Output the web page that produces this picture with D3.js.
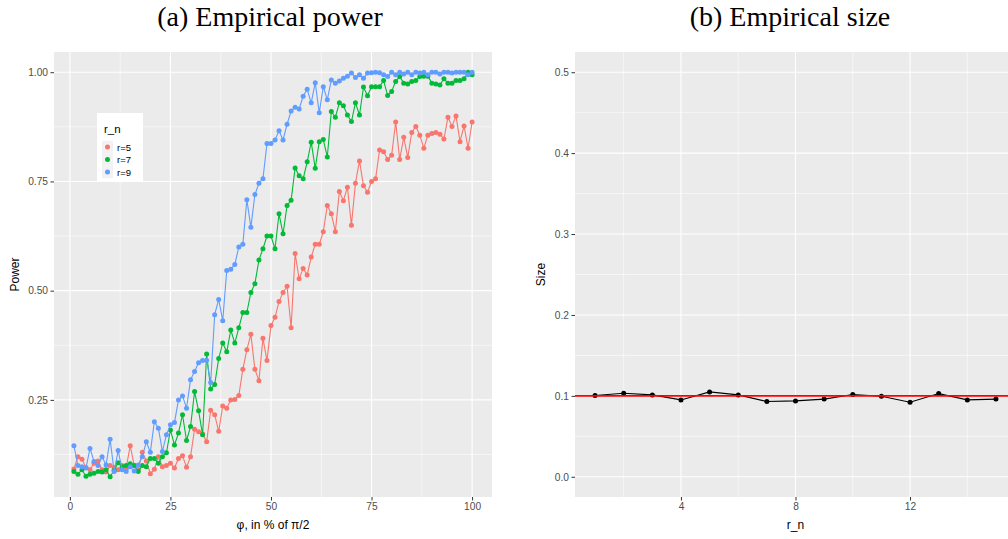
<!DOCTYPE html>
<html>
<head>
<meta charset="utf-8">
<script src="https://cdn.jsdelivr.net/npm/d3@7/dist/d3.min.js"></script>
<style>
  body { margin:0; background:#fff; }
  text { font-family: "Liberation Sans", Arial, sans-serif; }
  .title { font-family: "Liberation Serif", "Times New Roman", serif; }
</style>
</head>
<body>
<svg id="chart" width="1008" height="539"></svg>
<script>
// x values: phi in % of pi/2
const phi = d3.range(1, 101);

const power5 = [0.092,0.12,0.114,0.095,0.09,0.105,0.11,0.09,0.085,0.10,
  0.095,0.09,0.10,0.095,0.145,0.10,0.09,0.13,0.11,0.081,
  0.091,0.12,0.097,0.10,0.105,0.094,0.116,0.122,0.096,0.12,
  0.183,0.177,0.172,0.154,0.226,0.216,0.178,0.236,0.231,0.25,
  0.251,0.26,0.32,0.365,0.40,0.32,0.294,0.391,0.34,0.42,
  0.439,0.475,0.496,0.51,0.415,0.585,0.527,0.551,0.536,0.577,
  0.606,0.606,0.635,0.695,0.676,0.635,0.727,0.706,0.737,0.65,
  0.746,0.797,0.74,0.725,0.75,0.756,0.822,0.818,0.80,0.81,
  0.886,0.80,0.851,0.805,0.862,0.876,0.856,0.826,0.856,0.86,
  0.862,0.858,0.847,0.897,0.876,0.90,0.841,0.877,0.826,0.886];

const power7 = [0.086,0.08,0.09,0.075,0.08,0.082,0.086,0.085,0.09,0.074,
  0.089,0.106,0.097,0.10,0.104,0.10,0.086,0.10,0.097,0.116,
  0.116,0.105,0.12,0.129,0.181,0.147,0.174,0.216,0.157,0.189,
  0.269,0.225,0.17,0.355,0.275,0.285,0.345,0.38,0.36,0.41,
  0.38,0.415,0.45,0.45,0.496,0.516,0.57,0.596,0.625,0.625,
  0.596,0.676,0.63,0.695,0.707,0.781,0.763,0.756,0.795,0.84,
  0.78,0.841,0.846,0.806,0.91,0.897,0.93,0.923,0.902,0.887,
  0.93,0.902,0.966,0.946,0.967,0.967,0.967,0.981,0.947,0.956,
  0.979,0.99,0.975,0.973,0.979,0.981,0.99,0.991,0.991,0.975,
  0.973,0.971,0.985,0.975,0.975,0.981,0.981,0.985,1.0,0.994];

const power9 = [0.145,0.10,0.097,0.094,0.139,0.109,0.10,0.12,0.101,0.16,
  0.086,0.134,0.09,0.086,0.097,0.087,0.101,0.12,0.154,0.13,
  0.20,0.185,0.132,0.17,0.193,0.198,0.25,0.259,0.231,0.296,
  0.315,0.335,0.34,0.341,0.29,0.445,0.48,0.431,0.546,0.549,
  0.56,0.60,0.606,0.708,0.645,0.72,0.746,0.756,0.837,0.837,
  0.845,0.866,0.845,0.881,0.911,0.92,0.916,0.945,0.961,0.93,
  0.976,0.907,0.967,0.937,0.982,0.975,0.98,0.986,0.991,0.998,
  0.988,0.994,0.986,0.998,0.999,1.0,0.999,0.994,0.99,1.0,
  0.994,1.0,0.996,1.0,0.994,1.0,0.998,1.0,0.994,1.0,
  1.0,0.996,1.0,1.0,0.998,1.0,1.0,1.0,0.994,1.0];

const seriesNames = ["r=5","r=7","r=9"];
const seriesColours = ["#F8766D","#00BA38","#619CFF"];

const rn = d3.range(1, 16);
const sizeVals = [0.1004,0.1033,0.1012,0.0950,0.1049,0.1012,0.093,0.0938,0.096,0.1016,
  0.0996,0.0922,0.1028,0.095,0.096];
const nominal = 0.1;

const powerTicksX = [0,25,50,75,100];
const powerTicksY = [0.25,0.50,0.75,1.00];
const sizeTicksX = [4,8,12];
const sizeTicksY = [0.0,0.1,0.2,0.3,0.4,0.5];

const svg = d3.select("#chart");
const grey = "#EBEBEB";

// ggplot style expansion
function expand(ext, m) {
    const pad = (ext[1]-ext[0])*m;
    return [ext[0]-pad, ext[1]+pad];
}

function panel(g, x, y, xMajor, xMinor, yMajor, yMinor) {
    const [x0,x1] = x.range(), [y0,y1] = y.range();
    g.append("rect").attr("x",x0).attr("y",y1).attr("width",x1-x0).attr("height",y0-y1).attr("fill",grey);
    g.selectAll(".gminx").data(xMinor).enter().append("line")
        .attr("x1",d=>x(d)).attr("x2",d=>x(d)).attr("y1",y0).attr("y2",y1)
        .attr("stroke","#fff").attr("stroke-width",0.55);
    g.selectAll(".gminy").data(yMinor).enter().append("line")
        .attr("y1",d=>y(d)).attr("y2",d=>y(d)).attr("x1",x0).attr("x2",x1)
        .attr("stroke","#fff").attr("stroke-width",0.55);
    g.selectAll(".gmajx").data(xMajor).enter().append("line")
        .attr("x1",d=>x(d)).attr("x2",d=>x(d)).attr("y1",y0).attr("y2",y1)
        .attr("stroke","#fff").attr("stroke-width",1.1);
    g.selectAll(".gmajy").data(yMajor).enter().append("line")
        .attr("y1",d=>y(d)).attr("y2",d=>y(d)).attr("x1",x0).attr("x2",x1)
        .attr("stroke","#fff").attr("stroke-width",1.1);
}

function axes(g, x, y, xTicks, yTicks, fmtY) {
    const xAxis = d3.axisBottom(x).tickValues(xTicks).tickSize(3.5).tickPadding(2.5);
    const yAxis = d3.axisLeft(y).tickValues(yTicks).tickSize(3.5).tickPadding(2.5).tickFormat(fmtY);
    const gx = g.append("g").attr("transform","translate(0,"+y.range()[0]+")").call(xAxis);
    const gy = g.append("g").attr("transform","translate("+x.range()[0]+",0)").call(yAxis);
    [gx,gy].forEach(a=>{
        a.select(".domain").remove();
        a.selectAll(".tick line").attr("stroke","#333333").attr("stroke-width",1);
        a.selectAll(".tick text").attr("fill","#4D4D4D").style("font-size","10.2px");
    });
}

// ---- (a) power ----
const xP = d3.scaleLinear().domain(expand([1,100],0.05)).range([54,492]);
const yP = d3.scaleLinear().domain(expand([d3.min(power7),1.0],0.05)).range([497,52]);
const gA = svg.append("g");
panel(gA, xP, yP, powerTicksX, [12.5,37.5,62.5,87.5], powerTicksY, [0.125,0.375,0.625,0.875]);
axes(gA, xP, yP, powerTicksX, powerTicksY, d3.format(".2f"));

const series = [power5, power7, power9].map((vals,k)=>({
    name: seriesNames[k], colour: seriesColours[k],
    lineData: phi.map((p,i)=>({x:p, value:vals[i]}))
}));
const line = d3.line().x(d=>xP(d.x)).y(d=>yP(d.value));
const sg = gA.selectAll(".series").data(series).enter().append("g");
sg.append("path").attr("d",d=>line(d.lineData)).attr("fill","none")
    .attr("stroke",d=>d.colour).attr("stroke-width",1.1);
sg.each(function(s){
    d3.select(this).selectAll("circle").data(s.lineData).enter().append("circle")
        .attr("cx",d=>xP(d.x)).attr("cy",d=>yP(d.value)).attr("r",2.5).attr("fill",s.colour);
});

// legend
const leg = gA.append("g");
leg.append("rect").attr("x",97).attr("y",113).attr("width",46).attr("height",68).attr("fill","#fff");
leg.append("text").attr("x",104).attr("y",133).text("r_n").style("font-size","11.5px").attr("fill","#000");
seriesNames.forEach((n,k)=>{
    const cy = 147 + k*12.5;
    leg.append("rect").attr("x",102).attr("y",cy-6.25).attr("width",11).attr("height",12.5).attr("fill","#F2F2F2");
    leg.append("circle").attr("cx",107.5).attr("cy",cy).attr("r",2.5).attr("fill",seriesColours[k]);
    leg.append("text").attr("x",117).attr("y",cy+3.5).text(n).style("font-size","9.5px").attr("fill","#000");
});

gA.append("text").attr("class","title").attr("x",270).attr("y",26).attr("text-anchor","middle")
    .style("font-size","28px").text("(a) Empirical power");
gA.append("text").attr("x",273).attr("y",529).attr("text-anchor","middle")
    .style("font-size","12px").text("φ, in % of π/2");
gA.append("text").attr("transform","translate(19,274.5) rotate(-90)").attr("text-anchor","middle")
    .style("font-size","12px").text("Power");

// ---- (b) size ----
const xS = d3.scaleLinear().domain(expand([1,15],0.05)).range([575,1016]);
const yS = d3.scaleLinear().domain(expand([0,0.5],0.05)).range([497,52]);
const gB = svg.append("g");
panel(gB, xS, yS, sizeTicksX, [2,6,10,14], sizeTicksY, [0.05,0.15,0.25,0.35,0.45]);
axes(gB, xS, yS, sizeTicksX, sizeTicksY, d3.format(".1f"));

const sizeData = rn.map((r,i)=>({x:r, value:sizeVals[i]}));
const lineS = d3.line().x(d=>xS(d.x)).y(d=>yS(d.value));
gB.append("path").attr("d",lineS(sizeData)).attr("fill","none").attr("stroke","#000").attr("stroke-width",1.1);
gB.selectAll(".pt").data(sizeData).enter().append("circle")
    .attr("cx",d=>xS(d.x)).attr("cy",d=>yS(d.value)).attr("r",2.5).attr("fill","#000");
gB.append("line").attr("x1",xS.range()[0]).attr("x2",xS.range()[1])
    .attr("y1",yS(nominal)).attr("y2",yS(nominal)).attr("stroke","#FF0000").attr("stroke-width",1.6);

gB.append("text").attr("class","title").attr("x",790).attr("y",26).attr("text-anchor","middle")
    .style("font-size","28px").text("(b) Empirical size");
gB.append("text").attr("x",795.5).attr("y",529).attr("text-anchor","middle")
    .style("font-size","12px").text("r_n");
gB.append("text").attr("transform","translate(545,274.5) rotate(-90)").attr("text-anchor","middle")
    .style("font-size","12px").text("Size");
</script>
</body>
</html>
